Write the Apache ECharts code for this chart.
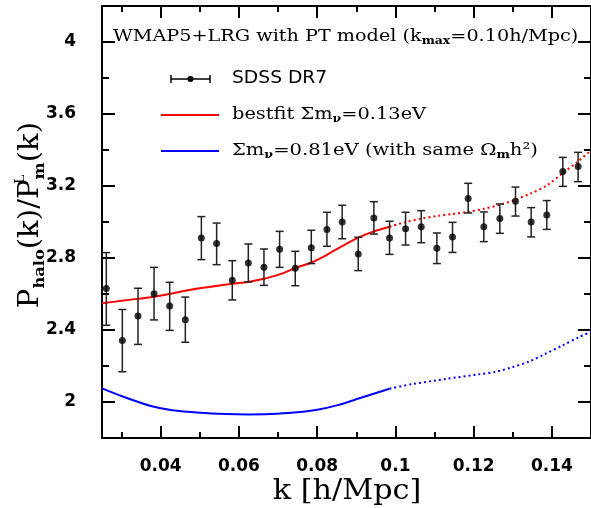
<!DOCTYPE html>
<html>
<head>
<meta charset="utf-8">
<script src="https://cdn.jsdelivr.net/npm/echarts@6/dist/echarts.min.js"></script>
<style>
  html, body { margin: 0; padding: 0; background: #fff; }
  #chart { width: 591px; height: 508px; }
</style>
</head>
<body>
<div id="chart"></div>
<script>
// SDSS DR7 band powers (k in h/Mpc)
const kData = [0.0261, 0.0302, 0.0342, 0.0383, 0.0423, 0.0463, 0.0504, 0.0543, 0.0583, 0.0624,
  0.0664, 0.0704, 0.0744, 0.0785, 0.0825, 0.0864, 0.0905, 0.0945, 0.0985, 0.1026,
  0.1066, 0.1106, 0.1146, 0.1186, 0.1226, 0.1267, 0.1307, 0.1347, 0.1387, 0.1428, 0.1467]
const pData = [2.630, 2.341, 2.478, 2.602, 2.533, 2.457, 2.911, 2.880, 2.676, 2.772,
  2.748, 2.848, 2.743, 2.857, 2.959, 3.000, 2.822, 3.022, 2.911, 2.963,
  2.974, 2.854, 2.917, 3.131, 2.974, 3.019, 3.115, 3.000, 3.039, 3.280, 3.309]
const errLo = [2.426, 2.168, 2.320, 2.456, 2.398, 2.332, 2.791, 2.763, 2.567, 2.667,
  2.648, 2.748, 2.646, 2.769, 2.865, 2.907, 2.730, 2.933, 2.820, 2.872,
  2.885, 2.769, 2.831, 3.050, 2.891, 2.937, 3.033, 2.917, 2.959, 3.198, 3.224]
const errHi = [2.830, 2.514, 2.632, 2.748, 2.665, 2.583, 3.030, 2.994, 2.785, 2.878,
  2.850, 2.948, 2.837, 2.954, 3.054, 3.093, 2.915, 3.113, 3.004, 3.054,
  3.063, 2.939, 2.998, 3.215, 3.056, 3.100, 3.194, 3.080, 3.119, 3.359, 3.387]

// bestfit model, sum m_nu = 0.13 eV (solid up to k_max, dotted beyond)
const bestK = [0.025, 0.031, 0.0383, 0.0444, 0.0504, 0.0583, 0.0623, 0.0664, 0.0704, 0.0744,
  0.0785, 0.0825, 0.0864, 0.0905, 0.0945, 0.0985]
const bestP = [2.548, 2.565, 2.585, 2.610, 2.633, 2.657, 2.667, 2.685, 2.709, 2.744,
  2.775, 2.818, 2.866, 2.913, 2.948, 2.974]
const bestK2 = [0.0985, 0.1027, 0.1069, 0.1106, 0.1146, 0.1188, 0.1226, 0.1264, 0.1307, 0.1347,
  0.1387, 0.1428, 0.1467, 0.15]
const bestP2 = [2.974, 3.000, 3.020, 3.033, 3.044, 3.057, 3.073, 3.094, 3.124, 3.160,
  3.203, 3.272, 3.337, 3.398]

// sum m_nu = 0.81 eV with same Omega_m h^2
const heavyK = [0.025, 0.031, 0.0375, 0.043, 0.050, 0.0567, 0.0624, 0.068, 0.074, 0.080,
  0.0855, 0.091, 0.0985]
const heavyP = [2.076, 2.025, 1.978, 1.954, 1.940, 1.933, 1.931, 1.933, 1.941, 1.957,
  1.984, 2.022, 2.074]
const heavyK2 = [0.0985, 0.1044, 0.1129, 0.1214, 0.1256, 0.1298, 0.1341, 0.1383, 0.1426, 0.1468, 0.15]
const heavyP2 = [2.074, 2.100, 2.128, 2.154, 2.168, 2.193, 2.224, 2.267, 2.313, 2.359, 2.390]

// tick positions
const xMajor = [0.04, 0.06, 0.08, 0.1, 0.12, 0.14]
const xMinor = [0.03, 0.05, 0.07, 0.09, 0.11, 0.13, 0.15]
const yMajor = [2, 2.4, 2.8, 3.2, 3.6, 4]
const yMinor = [2.2, 2.6, 3.0, 3.4, 3.8]

const zip = (a, b) => a.map((v, i) => [v, b[i]])

const chart = echarts.init(document.getElementById('chart'), null, { renderer: 'canvas' })

const serif = 'DejaVu Serif'
const black = '#000'

const makeX = (pos, ticks, len, main) => ({
  type: 'value',
  position: pos,
  min: 0.025,
  max: 0.15,
  axisLine: { show: main, lineStyle: { color: black, width: 2 } },
  axisTick: { show: true, inside: true, length: len, customValues: ticks, lineStyle: { color: black, width: 2 } },
  axisLabel: {
    show: main && pos === 'bottom',
    customValues: ticks,
    margin: 20,
    color: black,
    fontFamily: 'DejaVu Sans',
    fontWeight: 'bold',
    fontSize: 17,
    formatter: v => String(+v.toFixed(2))
  },
  splitLine: { show: false }
})

const makeY = (pos, ticks, len, main) => ({
  type: 'value',
  position: pos,
  min: 1.8,
  max: 4.2,
  axisLine: { show: main, lineStyle: { color: black, width: 2 } },
  axisTick: { show: true, inside: true, length: len, customValues: ticks, lineStyle: { color: black, width: 2 } },
  axisLabel: {
    show: main && pos === 'left',
    customValues: ticks,
    margin: 26,
    color: black,
    fontFamily: 'DejaVu Sans',
    fontWeight: 'bold',
    fontSize: 17,
    formatter: v => String(+v.toFixed(1))
  },
  splitLine: { show: false }
})

const txt = { fontFamily: serif, fontSize: 17, fill: black }
const sub = { fontFamily: serif, fontSize: 11, fontWeight: 'bold', fill: black, verticalAlign: 'bottom', lineHeight: 12 }

const option = {
  animation: false,
  backgroundColor: '#fff',
  grid: { left: 102, top: 6, width: 490.6, height: 432 },
  xAxis: [
    makeX('bottom', xMajor, 12, true),
    makeX('bottom', xMinor, 6, false),
    makeX('top', xMajor, 12, true),
    makeX('top', xMinor, 6, false)
  ],
  yAxis: [
    makeY('left', yMajor, 13, true),
    makeY('left', yMinor, 7, false),
    makeY('right', yMajor, 13, true),
    makeY('right', yMinor, 7, false)
  ],
  graphic: [
    {
      type: 'text', x: 113, y: 37, scaleX: 1.13,
      style: {
        text: '{a|WMAP5+LRG with PT model (k}{s|max}{a|=0.10h/Mpc)}', verticalAlign: 'middle',
        rich: { a: { ...txt, lineHeight: 20, verticalAlign: 'middle' }, s: sub }
      }
    },
    // legend: data points
    { type: 'line', shape: { x1: 171, y1: 79, x2: 210, y2: 79 }, style: { stroke: black, lineWidth: 1.5 } },
    { type: 'line', shape: { x1: 171, y1: 75, x2: 171, y2: 83 }, style: { stroke: black, lineWidth: 1.5 } },
    { type: 'line', shape: { x1: 210, y1: 75, x2: 210, y2: 83 }, style: { stroke: black, lineWidth: 1.5 } },
    { type: 'circle', shape: { cx: 190.5, cy: 79, r: 3 }, style: { fill: black } },
    { type: 'text', x: 232, y: 79, scaleX: 1.1, style: { text: 'SDSS DR7', font: '17px "DejaVu Sans"', fill: black, verticalAlign: 'middle' } },
    // legend: bestfit
    { type: 'line', shape: { x1: 161, y1: 115, x2: 219, y2: 115 }, style: { stroke: '#ff0000', lineWidth: 2 } },
    {
      type: 'text', x: 232, y: 115, scaleX: 1.14,
      style: {
        text: '{a|bestfit Σm}{s|ν}{a|=0.13eV}', verticalAlign: 'middle',
        rich: { a: { ...txt, lineHeight: 20, verticalAlign: 'middle' }, s: sub }
      }
    },
    // legend: heavy neutrinos
    { type: 'line', shape: { x1: 161, y1: 151, x2: 219, y2: 151 }, style: { stroke: '#0000ff', lineWidth: 2 } },
    {
      type: 'text', x: 232, y: 151, scaleX: 1.15,
      style: {
        text: '{a|Σm}{s|ν}{a|=0.81eV (with same Ω}{s|m}{a|h²)}', verticalAlign: 'middle',
        rich: { a: { ...txt, lineHeight: 20, verticalAlign: 'middle' }, s: sub }
      }
    },
    // axis titles
    {
      type: 'text', x: 347, y: 492, scaleX: 1.12,
      style: { text: 'k [h/Mpc]', font: '27px "DejaVu Serif"', fill: black, align: 'center', verticalAlign: 'middle' }
    },
    {
      type: 'text', x: 31, y: 215, rotation: Math.PI / 2, scaleX: 1.08,
      style: {
        text: '{b|P}{h|halo}{b|(k)/P}{u|L}{h|m}{b|(k)}', align: 'center', verticalAlign: 'middle',
        rich: {
          b: { fontFamily: serif, fontSize: 27, fill: black, lineHeight: 34, verticalAlign: 'middle' },
          h: { fontFamily: serif, fontSize: 15, fontWeight: 'bold', fill: black, lineHeight: 15, verticalAlign: 'bottom' },
          u: { fontFamily: serif, fontSize: 13, fill: black, lineHeight: 13, verticalAlign: 'top', width: 0 }
        }
      }
    }
  ],
  series: [
    {
      type: 'line', data: zip(bestK, bestP), smooth: 0.3, symbol: 'none',
      lineStyle: { color: '#ff0000', width: 2 }, z: 3
    },
    {
      type: 'line', data: zip(bestK2, bestP2), smooth: 0.3, symbol: 'none',
      lineStyle: { color: '#ff0000', width: 2, type: [2, 3] }, z: 3
    },
    {
      type: 'line', data: zip(heavyK, heavyP), smooth: 0.3, symbol: 'none',
      lineStyle: { color: '#0000ff', width: 2 }, z: 3
    },
    {
      type: 'line', data: zip(heavyK2, heavyP2), smooth: 0.3, symbol: 'none',
      lineStyle: { color: '#0000ff', width: 2, type: [2, 3] }, z: 3
    },
    {
      type: 'custom',
      data: kData.map((k, i) => [k, errLo[i], errHi[i]]),
      encode: { x: 0, y: [1, 2] },
      renderItem: (params, api) => {
        const k = api.value(0)
        const lo = api.coord([k, api.value(1)])
        const hi = api.coord([k, api.value(2)])
        const st = { stroke: '#222', lineWidth: 1.5 }
        return {
          type: 'group',
          children: [
            { type: 'line', shape: { x1: lo[0], y1: lo[1], x2: hi[0], y2: hi[1] }, style: st },
            { type: 'line', shape: { x1: lo[0] - 4, y1: lo[1], x2: lo[0] + 4, y2: lo[1] }, style: st },
            { type: 'line', shape: { x1: hi[0] - 4, y1: hi[1], x2: hi[0] + 4, y2: hi[1] }, style: st }
          ]
        }
      },
      z: 4
    },
    {
      type: 'scatter', data: zip(kData, pData), symbol: 'circle', symbolSize: 7,
      itemStyle: { color: black }, z: 5
    }
  ]
}

chart.setOption(option)
window.addEventListener('resize', () => chart.resize())
</script>
</body>
</html>
